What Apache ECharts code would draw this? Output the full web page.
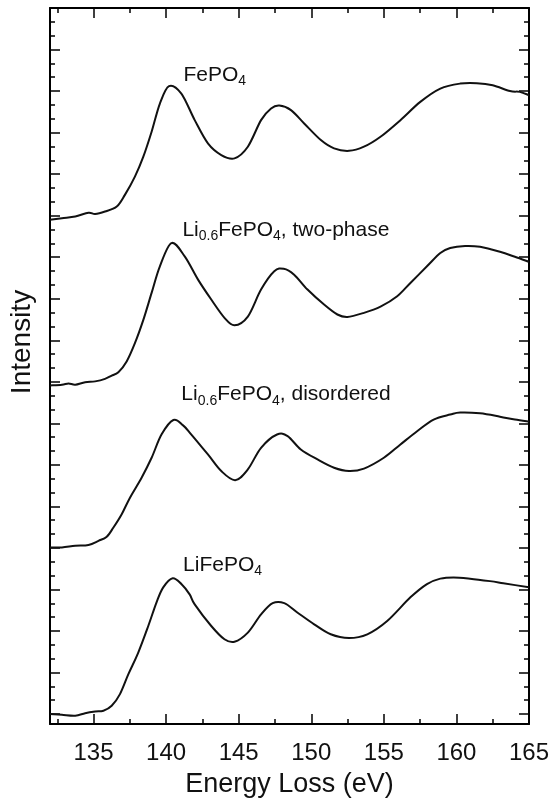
<!DOCTYPE html>
<html><head><meta charset="utf-8">
<script src="https://cdn.jsdelivr.net/npm/echarts@6/dist/echarts.min.js"></script>
<style>html,body{margin:0;padding:0;background:#fff}#c{width:554px;height:803px}</style>
</head><body><div id="c"></div>
<script>
// ---- data (energy in eV, intensity in arbitrary offset units) ----
const energyFePO4 = [132.0,132.82,133.74,134.65,135.11,135.79,136.6,137.16,137.85,138.43,139.0,139.57,140.2,141.05,141.97,142.88,143.8,144.71,145.63,146.54,147.23,147.8,148.6,149.51,150.66,151.57,152.6,153.63,154.77,156.14,157.51,158.89,160.26,161.4,162.5,163.69,164.37,165];
const intensityFePO4 = [119.0,119.4,119.8,120.7,120.4,121.0,122.2,125.0,129.4,134.2,140.2,147.0,151.2,149.4,143.0,137.4,134.6,133.8,136.6,143.0,145.8,146.5,145.4,142.2,138.2,136.2,135.6,136.6,139.0,143.0,147.4,150.6,151.8,151.9,151.4,150.0,149.8,149.0];

const energyTwoPhase = [132.0,132.82,133.28,133.74,134.42,135.11,135.79,136.25,136.71,137.28,137.85,138.43,139.0,139.57,140.37,141.28,142.2,143.11,144.02,144.71,145.63,146.54,147.45,148.1,148.82,149.74,150.88,151.8,152.49,153.63,154.77,155.92,156.83,157.97,158.89,159.57,160.6,161.63,163.0,164.03,165];
const intensityTwoPhase = [79.1,79.3,79.6,79.3,79.9,80.1,80.7,81.5,82.3,84.9,89.3,94.9,101.4,107.8,113.4,110.2,104.6,99.8,95.4,93.6,95.7,102.2,106.6,107.2,105.8,102.2,98.6,96.2,95.6,96.6,98.1,100.6,103.8,107.8,111.0,112.2,112.7,112.5,111.3,110.1,108.9];

const energyDisordered = [132.0,132.82,133.74,134.65,135.34,135.91,136.37,136.94,137.51,138.31,139.0,139.68,140.5,141.17,141.74,142.88,143.8,144.76,145.63,146.54,147.64,148.37,149.28,150.43,151.57,152.6,153.63,155.0,156.14,157.29,158.43,159.57,160.26,161.63,163.0,164.03,165];
const intensityDisordered = [40.1,40.1,40.5,40.7,41.7,42.7,44.9,48.1,52.1,56.9,61.7,67.3,70.8,69.5,67.3,62.5,58.5,56.3,58.9,64.1,67.3,66.9,63.7,61.3,59.3,58.5,59.1,61.7,64.9,68.1,70.9,72.1,72.6,72.4,71.6,70.9,70.4];

const energyLiFePO4 = [132.0,132.82,133.74,134.42,135.11,135.68,136.25,136.82,137.4,138.08,138.77,139.34,139.8,140.45,141.05,141.62,141.97,143.11,144.02,144.71,145.63,146.54,147.34,148.14,149.06,150.2,151.34,152.6,153.86,155.23,156.83,157.97,158.89,159.8,160.94,162.31,163.23,165];
const intensityLiFePO4 = [0,-0.2,-0.4,0.2,0.6,0.8,2.0,4.8,9.6,14.8,21.2,26.9,30.5,32.7,31.3,28.8,26.4,21.2,18.0,17.4,19.6,24.0,26.7,26.7,24.4,21.6,19.2,18.3,19.2,22.4,28.1,31.3,32.6,32.9,32.6,32.0,31.5,30.5];

// annotation texts and their anchor (left edge energy, centre intensity)
const labelTexts = [
  '{m|FePO}{s|4}',
  '{m|Li}{s|0.6}{m|FePO}{s|4}{m|, two-phase}',
  '{m|Li}{s|0.6}{m|FePO}{s|4}{m|, disordered}',
  '{m|LiFePO}{s|4}'
];
const labelEnergy = [141.19, 141.12, 141.05, 141.17];
const labelIntensity = [153.8, 116.6, 76.9, 35.8];

// axis ticks
const xMajorTicks = [135,140,145,150,155,160,165];
const xMinorTicks = [132.5,137.5,142.5,147.5,152.5,157.5,162.5];
const yMajorTicks = [0,10,20,30,40,50,60,70,80,90,100,110,120,130,140,150,160,170];
const yMinorTicks = [];
yMajorTicks.slice(0,-1).forEach(v => { yMinorTicks.push(v + 10/3, v + 20/3); });

const X_MIN = 132, X_MAX = 165, Y_MIN = -2.4, Y_MAX = 170;
const FONT = 'Arial, "Liberation Sans", sans-serif';

function zip(a, b) { return a.map((v, i) => [v, b[i]]); }

const chart = echarts.init(document.getElementById('c'), null, {renderer: 'canvas'});

function tickAxis(pos, vals, len, showLine) {
  const isY = pos === 'left' || pos === 'right';
  return {
    type: 'value', position: pos, min: isY ? Y_MIN : X_MIN, max: isY ? Y_MAX : X_MAX,
    axisLine: {show: showLine, onZero: false, lineStyle: {color: '#000', width: 2}},
    axisTick: {show: true, inside: true, length: len, customValues: vals, lineStyle: {color: '#000', width: 1.5}},
    axisLabel: {show: false},
    splitLine: {show: false}
  };
}

const xBottom = tickAxis('bottom', xMajorTicks, 10, true);
xBottom.axisLabel = {show: true, customValues: xMajorTicks, fontSize: 24, color: '#111', margin: 17, fontFamily: FONT};
xBottom.name = 'Energy Loss (eV)';
xBottom.nameLocation = 'middle';
xBottom.nameGap = 47;
xBottom.nameTextStyle = {fontSize: 27, color: '#111', fontFamily: FONT};

const yLeft = tickAxis('left', yMajorTicks, 10, true);
yLeft.name = 'Intensity';
yLeft.nameLocation = 'middle';
yLeft.nameGap = 14;
yLeft.nameTextStyle = {fontSize: 28, color: '#111', fontFamily: FONT, padding: [0, 0, 0, 48]};

// smooth curve through the data points (Catmull-Rom), positioned by the axes via api.coord
function mkSeries(name, e, v) {
  return {
    name, type: 'custom', xAxisIndex: 0, yAxisIndex: 0, silent: true, clip: true,
    data: zip(e, v),
    renderItem: function (params, api) {
      if (params.dataIndex !== 0) return null;
      const pts = e.map((x, i) => api.coord([x, v[i]]));
      let d = 'M' + pts[0][0].toFixed(2) + ' ' + pts[0][1].toFixed(2);
      for (let i = 0; i < pts.length - 1; i++) {
        const p0 = pts[i - 1] || pts[i], p1 = pts[i], p2 = pts[i + 1], p3 = pts[i + 2] || pts[i + 1];
        const c1x = p1[0] + (p2[0] - p0[0]) / 6, c1y = p1[1] + (p2[1] - p0[1]) / 6;
        const c2x = p2[0] - (p3[0] - p1[0]) / 6, c2y = p2[1] - (p3[1] - p1[1]) / 6;
        d += ' C' + c1x.toFixed(2) + ' ' + c1y.toFixed(2) + ' ' + c2x.toFixed(2) + ' ' + c2y.toFixed(2) +
             ' ' + p2[0].toFixed(2) + ' ' + p2[1].toFixed(2);
      }
      return {type: 'path', shape: {pathData: d}, style: {fill: 'none', stroke: '#111', lineWidth: 2, lineJoin: 'round'}};
    }
  };
}

chart.setOption({
  animation: false,
  backgroundColor: '#fff',
  grid: {left: 48, right: 25, top: 8, bottom: 78, containLabel: false},
  xAxis: [xBottom, tickAxis('bottom', xMinorTicks, 5, false), tickAxis('top', xMajorTicks, 10, true), tickAxis('top', xMinorTicks, 5, false)],
  yAxis: [yLeft, tickAxis('left', yMinorTicks, 5, false), tickAxis('right', yMajorTicks, 10, true), tickAxis('right', yMinorTicks, 5, false)],
  series: [
    mkSeries('FePO4', energyFePO4, intensityFePO4),
    mkSeries('Li0.6FePO4 two-phase', energyTwoPhase, intensityTwoPhase),
    mkSeries('Li0.6FePO4 disordered', energyDisordered, intensityDisordered),
    mkSeries('LiFePO4', energyLiFePO4, intensityLiFePO4)
  ]
});

const graphics = labelTexts.map((t, i) => {
  const p = chart.convertToPixel({xAxisIndex: 0, yAxisIndex: 0}, [labelEnergy[i], labelIntensity[i]]);
  return {
    type: 'text', x: p[0], y: p[1],
    style: {
      text: t, align: 'left', verticalAlign: 'middle', fill: '#111', fontFamily: FONT,
      rich: {
        m: {fontSize: 21, lineHeight: 26, verticalAlign: 'middle', fill: '#111', fontFamily: FONT},
        s: {fontSize: 14, lineHeight: 14, verticalAlign: 'bottom', fill: '#111', fontFamily: FONT}
      }
    }
  };
});
chart.setOption({graphic: graphics});
</script>
</body></html>
